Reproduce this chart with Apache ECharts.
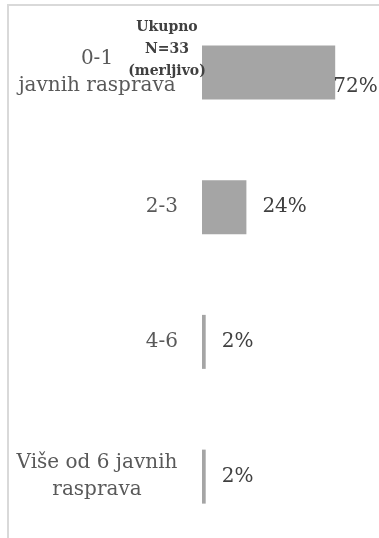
<!DOCTYPE html>
<html>
<head>
<meta charset="utf-8">
<script src="https://cdn.jsdelivr.net/npm/echarts@6/dist/echarts.min.js"></script>
<style>
  html, body { margin: 0; padding: 0; background: #fff; }
  #chart { width: 379px; height: 538px; }
</style>
</head>
<body>
<div id="chart"></div>
<script>
// 数据
const categories = ['0-1\njavnih rasprava', '2-3', '4-6', 'Više od 6 javnih\nrasprava'];
const values = [72, 24, 2, 2];
const titleLines = ['Ukupno', 'N=33', '(merljivo)'];

const serif = '"DejaVu Serif", "Liberation Serif", serif';

const chart = echarts.init(document.getElementById('chart'));

chart.setOption({
  animation: false,
  backgroundColor: '#fff',
  title: {
    text: titleLines.join('\n'),
    left: 162,
    top: 11,
    textAlign: 'center',
    textStyle: {
      fontFamily: serif,
      fontSize: 14,
      fontWeight: 'bold',
      color: '#404040',
      lineHeight: 22
    }
  },
  graphic: [
    {
      type: 'polyline',
      shape: { points: [[8, 540], [8, 5], [380, 5]] },
      style: { stroke: '#d9d9d9', lineWidth: 2, fill: null },
      silent: true
    }
  ],
  grid: {
    left: 202,
    right: -8,
    top: 5,
    bottom: -6,
    outerBoundsMode: 'none'
  },
  xAxis: {
    type: 'value',
    min: 0,
    max: 100,
    show: false
  },
  yAxis: {
    type: 'category',
    inverse: true,
    data: categories,
    axisLine: { show: false },
    axisTick: { show: false },
    axisLabel: {
      margin: 24,
      fontFamily: serif,
      fontSize: 20,
      color: '#595959',
      lineHeight: 27,
      formatter: (v) => v.includes('\n') ? v.split('\n').map(s => '{c|' + s + '}').join('\n') : v,
      rich: {
        c: {
          width: 162,
          align: 'center',
          fontFamily: serif,
          fontSize: 20,
          color: '#595959',
          lineHeight: 27
        }
      }
    }
  },
  series: [
    {
      type: 'bar',
      barWidth: 54,
      data: values.map((v, i) => i === 0
        ? { value: v, label: { distance: -2, offset: [0, 14] } }
        : v),
      itemStyle: { color: '#a5a5a5' },
      label: {
        show: true,
        position: 'right',
        distance: 16,
        formatter: '{c}%',
        fontFamily: serif,
        fontSize: 20,
        color: '#404040'
      }
    }
  ]
});
</script>
</body>
</html>
